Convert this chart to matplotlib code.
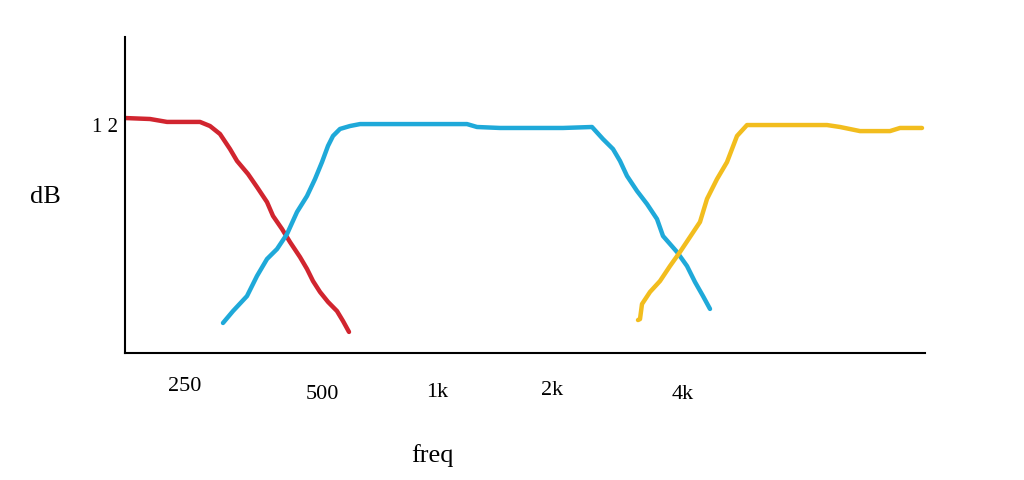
import matplotlib
matplotlib.use("Agg")
import matplotlib.pyplot as plt

# x: horizontal position along the frequency axis (drawing units), y: dB
red_x = [0, 25, 42, 75, 85, 95, 105, 112, 123, 132, 142, 148, 157, 165, 175, 182, 188, 195, 203, 212, 218, 224]
red_y = [12.05, 12.0, 11.85, 11.85, 11.64, 11.23, 10.46, 9.85, 9.18, 8.51, 7.74, 7.03, 6.36, 5.69, 4.92, 4.31,
         3.69, 3.13, 2.62, 2.15, 1.64, 1.08]

blue_x = [98, 108, 122, 132, 142, 152, 162, 172, 182, 190, 197, 203, 208, 215, 225, 235, 342, 352, 375, 438,
          467, 478, 488, 495, 502, 512, 522, 532, 538, 552, 562, 570, 578, 585]
blue_y = [1.54, 2.15, 2.92, 3.95, 4.82, 5.33, 6.10, 7.23, 8.05, 8.92, 9.79, 10.62, 11.13, 11.49, 11.64, 11.74,
          11.74, 11.59, 11.54, 11.54, 11.59, 10.97, 10.46, 9.85, 9.08, 8.31, 7.64, 6.87, 6.00, 5.18, 4.46,
          3.64, 2.92, 2.26]

yellow_x = [513, 515, 517, 525, 535, 545, 555, 565, 575, 582, 592, 602, 612, 622, 702, 715, 735, 765, 775, 797]
yellow_y = [1.69, 1.74, 2.51, 3.13, 3.69, 4.46, 5.18, 5.95, 6.72, 7.90, 8.92, 9.79, 11.13, 11.69, 11.69,
            11.59, 11.38, 11.38, 11.54, 11.54]

freq_labels = ["250", "500", "1k", "2k", "4k"]
freq_label_x = [60, 197, 312, 427, 558]
freq_label_y = [-1.69, -2.10, -1.95, -1.85, -2.10]

FONT = "Liberation Serif"

fig = plt.figure(figsize=(10.24, 4.81), dpi=100)
ax = fig.add_axes([125 / 1024, (481 - 354) / 481, 800 / 1024, (354 - 38) / 481])
ax.set_xlim(0, 800)
ax.set_ylim(0, (354 - 38) / 19.5)

lw = 3.2
ax.plot(red_x, red_y, color="#d1252f", lw=lw, solid_capstyle="round", solid_joinstyle="round")
ax.plot(blue_x, blue_y, color="#1fa9d9", lw=lw, solid_capstyle="round", solid_joinstyle="round")
ax.plot(yellow_x, yellow_y, color="#f2bd1e", lw=lw, solid_capstyle="round", solid_joinstyle="round")

for s in ["top", "right"]:
    ax.spines[s].set_visible(False)
for s in ["left", "bottom"]:
    ax.spines[s].set_linewidth(1.5)
    ax.spines[s].set_color("black")
ax.set_xticks([])
ax.set_yticks([])

for lab, lx, ly in zip(freq_labels, freq_label_x, freq_label_y):
    ax.text(lx, ly, lab, ha="center", va="center", fontsize=16, family=FONT, clip_on=False)

ax.text(-20, 11.64, "1 2", ha="center", va="center", fontsize=15, family=FONT, clip_on=False)
ax.text(-80, 8.05, "dB", ha="center", va="center", fontsize=19, family=FONT, clip_on=False)
ax.text(307, -5.23, "freq", ha="center", va="center", fontsize=19, family=FONT, clip_on=False)

fig.savefig("out.png", dpi=100, facecolor="white")
